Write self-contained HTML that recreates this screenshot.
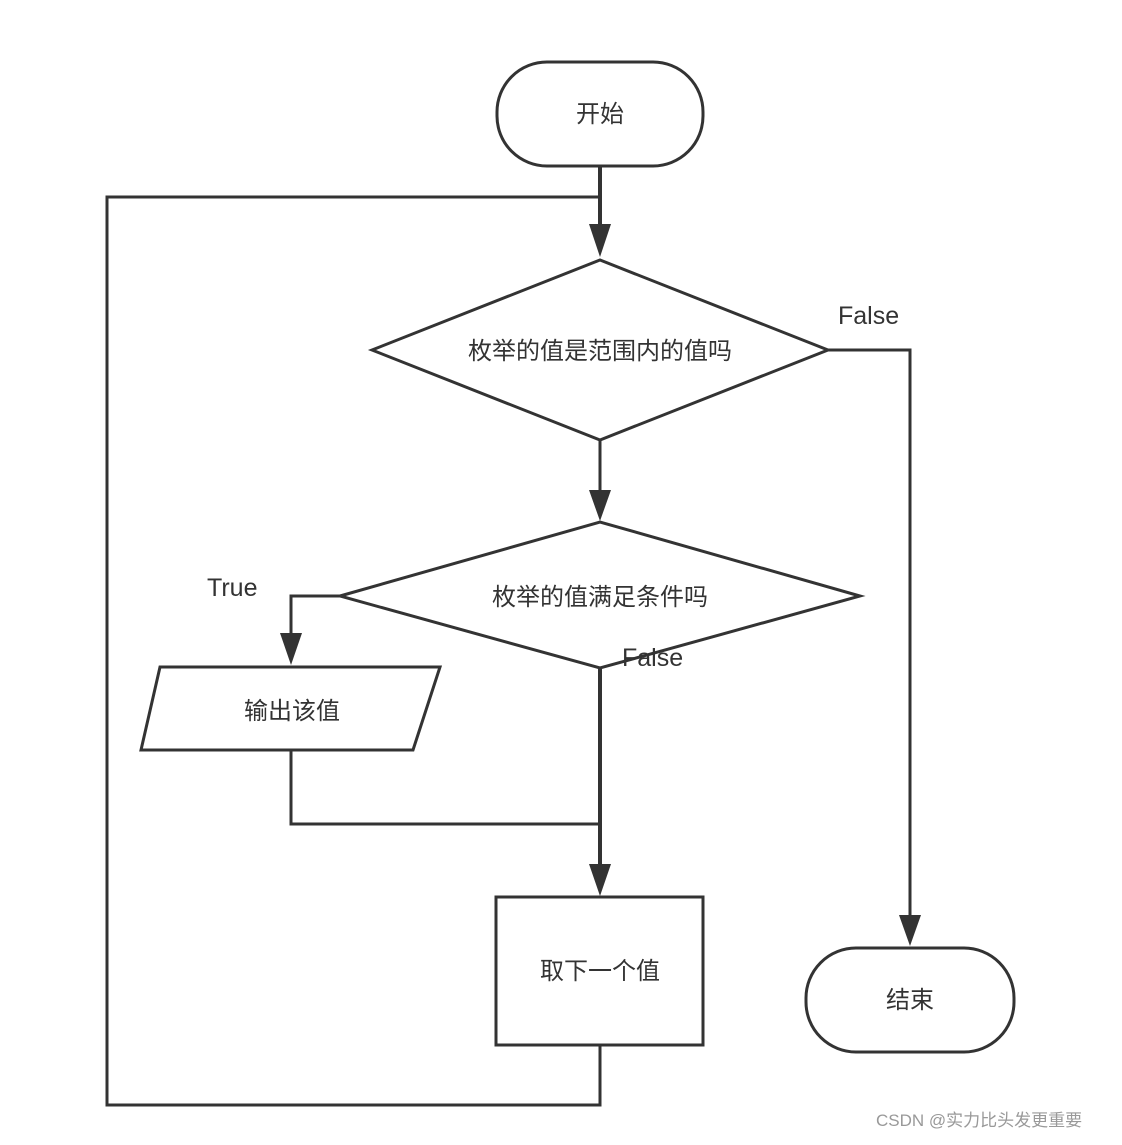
<!DOCTYPE html>
<html><head><meta charset="utf-8"><style>
html,body{margin:0;padding:0;background:#fff;}
svg text{font-family:"Liberation Sans","Noto Sans CJK SC",sans-serif;fill:#333;}
</style></head><body>
<svg width="1122" height="1140" viewBox="0 0 1122 1140" xmlns="http://www.w3.org/2000/svg">
<g stroke="#333" stroke-width="3" fill="none">
<rect x="497" y="62" width="206" height="104" rx="50" ry="50" fill="#fff"/>
<line x1="600" y1="166" x2="600" y2="226" stroke-width="4"/>
<polyline points="600,197 107,197 107,1105 600,1105 600,1045"/>
<polygon points="372,350 600,260 828,350 600,440" fill="#fff"/>
<polyline points="828,350 910,350 910,918"/>
<rect x="806" y="948" width="208" height="104" rx="50" ry="50" fill="#fff"/>
<line x1="600" y1="440" x2="600" y2="492"/>
<polygon points="340,596 600,522 860,596 600,668" fill="#fff"/>
<polyline points="340,596 291,596 291,636"/>
<polygon points="160,667 440,667 413,750 141,750" fill="#fff"/>
<polyline points="291,750 291,824 600,824"/>
<line x1="600" y1="668" x2="600" y2="866" stroke-width="4"/>
<rect x="496" y="897" width="207" height="148" fill="#fff"/>
</g>
<g fill="#333">
<polygon points="589,224 611,224 600,257"/>
<polygon points="589,490 611,490 600,521"/>
<polygon points="899,915 921,915 910,946"/>
<polygon points="280,633 302,633 291,665"/>
<polygon points="589,864 611,864 600,896"/>
</g>
<g font-size="24" text-anchor="middle">
<text x="600" y="122">开始</text>
<text x="600" y="359">枚举的值是范围内的值吗</text>
<text x="600" y="605">枚举的值满足条件吗</text>
<text x="292" y="719">输出该值</text>
<text x="600" y="979">取下一个值</text>
<text x="910" y="1008">结束</text>
</g>
<g font-size="25">
<text x="838" y="324">False</text>
<text x="207" y="596">True</text>
<text x="622" y="666">False</text>
</g>
<text x="876" y="1126" font-size="17" style="fill:#999">CSDN @实力比头发更重要</text>
</svg>
</body></html>
